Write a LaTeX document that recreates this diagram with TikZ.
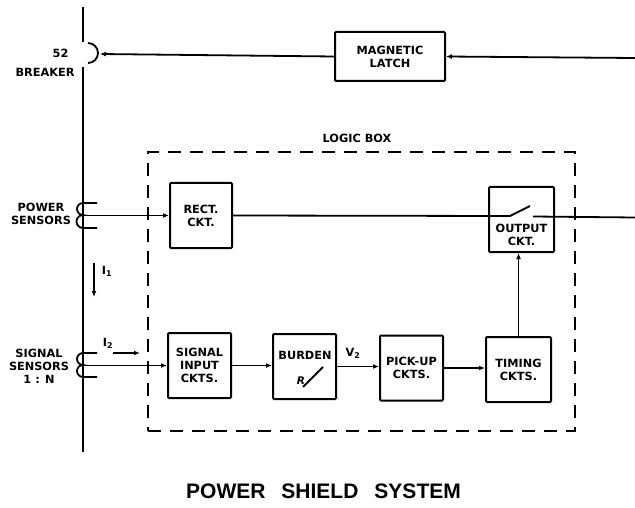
\documentclass[tikz,border=0pt]{standalone}
\usepackage{fontspec}
\setmainfont{DejaVu Sans}
\newfontfamily\titlefont{Liberation Sans}
\usetikzlibrary{arrows.meta}
\begin{document}
\begin{tikzpicture}[x=1pt,y=-1pt,
  lbl/.style={font=\bfseries\fontsize{11.3}{13}\selectfont, align=center, inner sep=0pt},
  blk/.style={draw, line width=2pt, rounded corners=1pt, minimum width=63pt, minimum height=65pt, inner sep=0pt, lbl},
  wire/.style={line width=1.8pt},
  arr/.style={wire, -{Latex[length=6pt,width=5pt]}},
  dashbox/.style={draw, line width=2.3pt, dash pattern=on 13pt off 9pt, minimum width=427pt, minimum height=279pt, inner sep=0pt}
  ]
\useasboundingbox (0,0) rectangle (635,508);

% main line with breaker
\coordinate (ltop) at (83,7);
\coordinate (lbrk1) at (83,42);
\coordinate (lbrk2) at (83,67);
\coordinate (lbot) at (83,452);
\draw[wire] (ltop) -- (lbrk1);
\draw[wire] (lbrk2) -- (lbot);
\draw[wire] (88,43) arc[start angle=90, end angle=-90, radius=10pt];
\coordinate (brk) at (100,54);
\node[lbl] (n52) at (60.5,53) {52};
\node[lbl] (breaker) at (45,72) {BREAKER};

% magnetic latch
\node[blk, minimum width=110pt, minimum height=49pt] (latch) at (390,56.5) {MAGNETIC\\LATCH};
\coordinate (inR) at (635,58);
\draw[arr] (latch.west) -- (brk);
\draw[arr] (inR) -- (latch.east);

% logic box
\node[dashbox] (logic) at (361.5,291.5) {};
\node[lbl] (logiclbl) at (357,138) {LOGIC BOX};

% power sensors
\draw[wire] (97,203) -- (83,203) arc[start angle=90, end angle=270, radius=6pt]
            arc[start angle=90, end angle=270, radius=6.5pt] -- (97,228);
\node[lbl] (psens) at (41,214) {POWER\\SENSORS};
\coordinate (pj) at (83,215.5);

\node[blk, minimum width=62pt] (rect) at (201,215.5) {RECT.\\CKT.};
\draw[arr] (pj) -- (rect.west);

% output circuit
\node[blk, minimum width=65pt] (out) at (521.5,219.5) {};
\node[lbl] (outlbl) at (521.5,235) {OUTPUT\\CKT.};
\coordinate (swA) at (510,216);
\coordinate (swB) at (530,206);
\coordinate (swC) at (533,216.5);
\coordinate (outR) at (635,217.5);
\draw[wire] (rect.east) -- (swA) -- (swB);
\draw[wire] (swC) -- (outR);

% I1
\coordinate (i1a) at (94,263);
\coordinate (i1b) at (94,297);
\draw[arr] (i1a) -- (i1b);
\node[lbl] (i1) at (107,271) {I\textsubscript{1}};

% signal sensors
\draw[wire] (97,353) -- (83,353) arc[start angle=90, end angle=270, radius=6pt]
            arc[start angle=90, end angle=270, radius=6pt] -- (97,377);
\node[lbl] (ssens) at (39,366) {SIGNAL\\SENSORS\\1 : N};
\coordinate (sj) at (83,365.5);

% I2
\coordinate (i2a) at (113,353);
\coordinate (i2b) at (140,353);
\draw[arr] (i2a) -- (i2b);
\node[lbl] (i2) at (108,343) {I\textsubscript{2}};

% chain of blocks
\node[blk] (sig) at (199.5,365.5) {SIGNAL\\INPUT\\CKTS.};
\node[blk] (burden) at (304.5,366.5) {};
\node[lbl] (burdenlbl) at (305,355) {BURDEN};
\node[lbl, font=\bfseries\itshape\fontsize{10.5}{12}\selectfont] (rsym) at (301,381) {R};
\coordinate (rs1) at (303,387);
\coordinate (rs2) at (323,367);
\draw[wire, line width=2pt] (rs1) -- (rs2);
\node[blk] (pick) at (411.5,368) {PICK-UP\\CKTS.};
\node[blk, minimum width=65pt] (timing) at (518.5,369.5) {TIMING\\CKTS.};
\node[lbl] (v2) at (353,353) {V\textsubscript{2}};

\draw[arr] (sj) -- (sig.west);
\draw[arr] (sig.east) -- (sig.east -| burden.west);
\draw[arr] (burden.east) -- (burden.east -| pick.west);
\draw[arr] (pick.east) -- (pick.east -| timing.west);
\draw[arr] (timing.north) -- (timing.north |- out.south);

% title
\node[font=\titlefont\bfseries\fontsize{21}{24}\selectfont, inner sep=0pt] (title) at (323.5,491)
  {POWER\hspace{16pt}SHIELD\hspace{16pt}SYSTEM};
\end{tikzpicture}
\end{document}
